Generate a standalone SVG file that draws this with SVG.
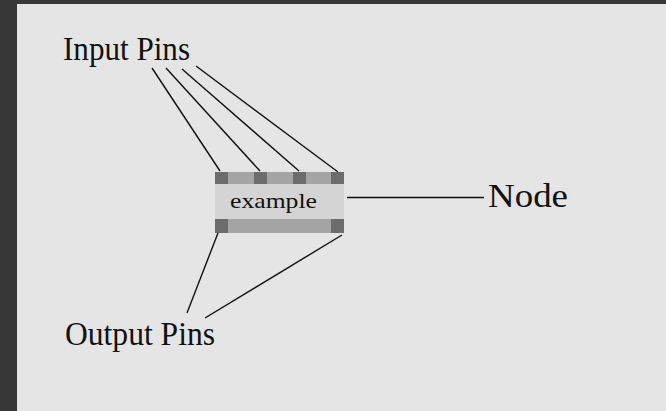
<svg xmlns="http://www.w3.org/2000/svg" width="666" height="411" viewBox="0 0 666 411">
<style>
.lbl{font-family:"Liberation Serif","Times New Roman",serif;fill:#111}
.pin{fill:#6c6c6c}
.bar{fill:#a4a4a4}
.wire{stroke:#111;stroke-width:1.4;fill:none}
</style>
<rect x="0" y="0" width="666" height="411" fill="#373737"/>
<rect x="17" y="4" width="649" height="407" fill="#e5e5e5"/>
<g id="connectors">
<line class="wire" x1="152" y1="68" x2="220" y2="171"/>
<line class="wire" x1="166" y1="68" x2="260" y2="171"/>
<line class="wire" x1="182" y1="69" x2="299" y2="171"/>
<line class="wire" x1="196" y1="66" x2="338" y2="172"/>
<line class="wire" x1="218" y1="233" x2="187" y2="313"/>
<line class="wire" x1="342" y1="235" x2="205" y2="318"/>
<line class="wire" x1="347" y1="197.5" x2="484" y2="197.5"/>
</g>
<g id="node-example">
<rect x="215" y="172" width="129" height="61" fill="#d4d4d4"/>
<rect class="bar" x="215" y="172" width="129" height="12"/>
<rect class="bar" x="215" y="219" width="129" height="14"/>
<rect class="pin" x="215" y="172" width="13" height="12"/>
<rect class="pin" x="254" y="172" width="13" height="12"/>
<rect class="pin" x="293" y="172" width="13" height="12"/>
<rect class="pin" x="331" y="172" width="13" height="12"/>
<rect class="pin" x="215" y="219" width="13" height="14"/>
<rect class="pin" x="331" y="219" width="13" height="14"/>
<text class="lbl" x="230" y="208" font-size="21" textLength="87" lengthAdjust="spacingAndGlyphs">example</text>
</g>
<g id="label-input">
<text class="lbl" x="63" y="60" font-size="34" textLength="127" lengthAdjust="spacingAndGlyphs">Input Pins</text>
</g>
<g id="label-output">
<text class="lbl" x="65" y="345" font-size="34" textLength="150" lengthAdjust="spacingAndGlyphs">Output Pins</text>
</g>
<g id="label-node">
<text class="lbl" x="488" y="207" font-size="34" textLength="80" lengthAdjust="spacingAndGlyphs">Node</text>
</g>
</svg>
